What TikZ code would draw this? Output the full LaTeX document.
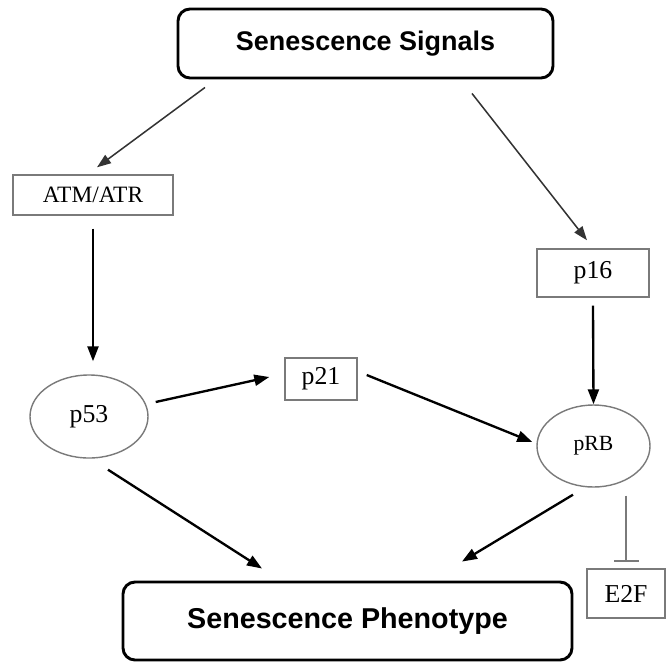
\documentclass[tikz,border=0pt]{standalone}
\usepackage{fontspec}
\setmainfont{Liberation Serif}
\newfontfamily\headfont{Liberation Sans}
\usepackage{tikz}
\usetikzlibrary{arrows.meta,shapes.geometric,calc}
\definecolor{linegray}{HTML}{7A7A7A}
\definecolor{arrowgray}{HTML}{333333}
\tikzset{
  headbox/.style={draw=black, line width=2.5pt, rounded corners=3.6mm, align=center, fill=white, inner sep=0pt, font=\headfont\bfseries},
  genebox/.style={draw=linegray, line width=1.2pt, inner sep=0pt, fill=white, font={\fontsize{22}{24}\selectfont}},
  geneoval/.style={draw=linegray, line width=1.2pt, ellipse, inner sep=0pt, fill=white, font={\fontsize{22}{24}\selectfont}},
  arrow/.style={-{Triangle[length=4.5mm,width=3.3mm]}, line width=2pt, draw=black},
  thinarrow/.style={-{Triangle[length=4.2mm,width=3mm]}, line width=1.3pt, draw=arrowgray},
  inhibit/.style={-{Bar[width=7.5mm,line width=1.6pt]}, line width=1.6pt, draw=linegray}
}

\begin{document}
\begin{tikzpicture}[x=0.3mm, y=-0.3mm]
  \useasboundingbox (0,0) rectangle (666,662);

  \node[headbox, minimum width=112.5mm, minimum height=20.7mm, font=\headfont\bfseries\fontsize{23}{26}\selectfont] (signals) at (365.5,43.5) {Senescence Signals};
  \node[headbox, minimum width=134.7mm, minimum height=23.4mm, font=\headfont\bfseries\fontsize{24.5}{27}\selectfont] (phenotype) at (347.5,621) {Senescence Phenotype};

  \node[genebox, minimum width=48mm, minimum height=12mm, font={\fontsize{20}{22}\selectfont}] (atm) at (93,195) {ATM/ATR};
  \node[geneoval, minimum width=35.4mm, minimum height=24.9mm] (p53) at (89,416.5) {p53};
  \node[genebox, minimum width=21.6mm, minimum height=12.6mm] (p21) at (321,379) {p21};
  \node[genebox, minimum width=33.6mm, minimum height=14.4mm] (p16) at (593,273) {p16};
  \node[geneoval, minimum width=33.9mm, minimum height=24.6mm, font={\fontsize{18.5}{20}\selectfont}] (prb) at (593.5,446) {pRB};
  \node[genebox, minimum width=23.4mm, minimum height=14.7mm] (e2f) at (626,593.5) {E2F};

  \draw[thinarrow] ($(signals.south)+(-160.5,8)$) -- ($(atm.north)+(4,-7)$);
  \draw[thinarrow] ($(signals.south)+(106.5,14)$) -- ($(p16.north)+(-6,-8)$);
  \draw[arrow] ($(atm.south)+(0,13)$) -- ($(p53.north)+(4,-13)$);
  \draw[arrow] ($(p53.east)+(7,-14.5)$) -- ($(p21.west)+(-15,-2)$);
  \draw[arrow] ($(p21.east)+(9,-4)$) -- ($(prb.west)+(-4,-4)$);
  \draw[arrow] ($(p16.south)+(0,8)$) -- (prb.north);
  \draw[arrow] ($(p53.south)+(19,11)$) -- ($(phenotype.north)+(-85.5,-12)$);
  \draw[arrow] ($(prb.south)+(-20.5,7)$) -- ($(phenotype.north)+(114.5,-19)$);
  \draw[inhibit] ($(prb.south)+(32.5,8)$) -- ($(e2f.north)+(0,-6)$);
\end{tikzpicture}
\end{document}
